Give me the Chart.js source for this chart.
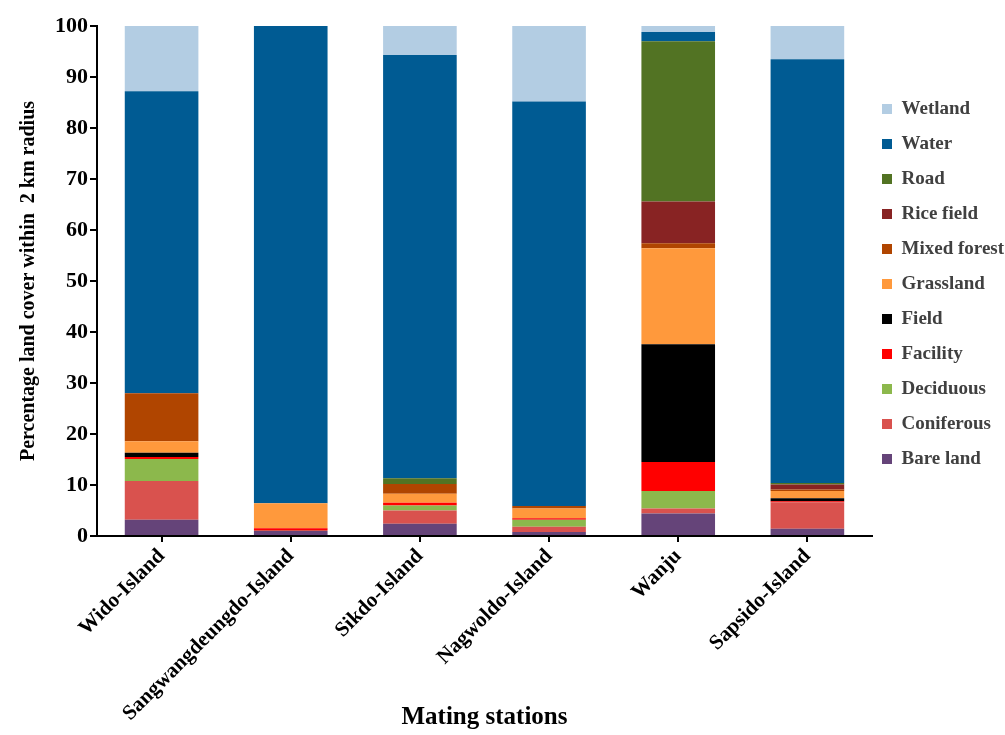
<!DOCTYPE html>
<html>
<head>
<meta charset="utf-8">
<script src="https://cdn.jsdelivr.net/npm/chart.js@4/dist/chart.umd.min.js"></script>
<style>
  html, body { margin: 0; padding: 0; background: #fff; }
  #wrap { width: 1005px; height: 735px; overflow: hidden; }
</style>
</head>
<body>
<div id="wrap"><canvas id="c" width="1005" height="735"></canvas></div>
<script>
// Mating stations (x categories)
const stations = ['Wido-Island', 'Sangwangdeungdo-Island', 'Sikdo-Island', 'Nagwoldo-Island', 'Wanju', 'Sapsido-Island'];

// Percentage land cover within 2 km radius, per class (stack order bottom -> top)
const bareLand    = [3.2, 1.0, 2.4, 0.8, 4.4, 1.4];
const coniferous  = [7.6, 0.2, 2.6, 1.0, 1.0, 5.2];
const deciduous   = [4.3, 0.0, 1.0, 1.4, 3.4, 0.0];
const facility    = [0.4, 0.3, 0.5, 0.3, 5.7, 0.2];
const field       = [0.8, 0.0, 0.0, 0.0, 23.1, 0.6];
const grassland   = [2.3, 4.9, 1.8, 1.9, 18.8, 1.4];
const mixedForest = [9.4, 0.0, 1.9, 0.5, 1.0, 0.3];
const riceField   = [0.0, 0.0, 0.0, 0.0, 8.2, 1.0];
const road        = [0.0, 0.0, 1.1, 0.0, 31.4, 0.3];
const water       = [59.2, 93.6, 83.0, 79.3, 1.8, 83.1];
const wetland     = [12.8, 0.0, 5.7, 14.8, 1.2, 6.5];

const yTicks = [0, 10, 20, 30, 40, 50, 60, 70, 80, 90, 100];

const series = [
  { label: 'Bare land',    data: bareLand,    color: '#654479' },
  { label: 'Coniferous',   data: coniferous,  color: '#d9524e' },
  { label: 'Deciduous',    data: deciduous,   color: '#8cb84c' },
  { label: 'Facility',     data: facility,    color: '#ff0000' },
  { label: 'Field',        data: field,       color: '#000000' },
  { label: 'Grassland',    data: grassland,   color: '#ff993c' },
  { label: 'Mixed forest', data: mixedForest, color: '#b04500' },
  { label: 'Rice field',   data: riceField,   color: '#882323' },
  { label: 'Road',         data: road,        color: '#527323' },
  { label: 'Water',        data: water,       color: '#005b93' },
  { label: 'Wetland',      data: wetland,     color: '#b3cde3' }
];

const serif = "'Liberation Serif', 'Times New Roman', serif";
const LEGEND_PAD = 16;

// Place the legend block beside the upper part of the plot
const legendPlacement = {
  id: 'legendPlacement',
  afterUpdate(chart) {
    const lg = chart.legend;
    if (!lg) return;
    const dy = 284 - (lg.top + lg.bottom) / 2;
    lg.top += dy; lg.bottom += dy;
    const dx = 882 - (lg.left + LEGEND_PAD);
    lg.left += dx; lg.right += dx;
  }
};

new Chart(document.getElementById('c'), {
  type: 'bar',
  data: {
    labels: stations,
    datasets: series.map(s => ({
      label: s.label,
      data: s.data,
      backgroundColor: s.color,
      borderWidth: 0,
      barPercentage: 0.57,
      categoryPercentage: 1.0
    }))
  },
  plugins: [legendPlacement],
  options: {
    responsive: false,
    animation: false,
    layout: { padding: { left: 0, right: -15, top: 26, bottom: 2 } },
    plugins: {
      tooltip: { enabled: false },
      legend: {
        position: 'right',
        reverse: true,
        labels: {
          font: { family: serif, size: 19, weight: 'bold' },
          color: '#404040',
          boxWidth: 10,
          boxHeight: 10,
          padding: LEGEND_PAD
        }
      }
    },
    scales: {
      x: {
        stacked: true,
        afterFit: axis => { axis.height = 197; },
        border: { color: '#000', width: 2 },
        grid: { display: true, drawOnChartArea: false, drawTicks: true, tickLength: 6, color: '#000', lineWidth: 2, offset: false },
        ticks: {
          minRotation: 45, maxRotation: 45,
          autoSkip: false,
          color: '#000',
          font: { family: serif, size: 21, weight: 'bold' },
          padding: 2
        },
        title: {
          display: true,
          text: 'Mating stations',
          color: '#000',
          font: { family: serif, size: 25, weight: 'bold' },
          padding: { top: 0, bottom: 0 }
        }
      },
      y: {
        stacked: true,
        min: 0, max: 100,
        afterFit: axis => { axis.width = 97; },
        afterBuildTicks: axis => { axis.ticks = yTicks.map(v => ({ value: v })); },
        border: { color: '#000', width: 2 },
        grid: { display: true, drawOnChartArea: false, drawTicks: true, tickLength: 7, color: '#000', lineWidth: 2 },
        ticks: {
          color: '#000',
          font: { family: serif, size: 22, weight: 'bold' },
          padding: 2
        },
        title: {
          display: true,
          text: 'Percentage land cover within  2 km radius',
          color: '#000',
          font: { family: serif, size: 20, weight: 'bold' },
          padding: { top: 17, bottom: 0 }
        }
      }
    }
  }
});
</script>
</body>
</html>
